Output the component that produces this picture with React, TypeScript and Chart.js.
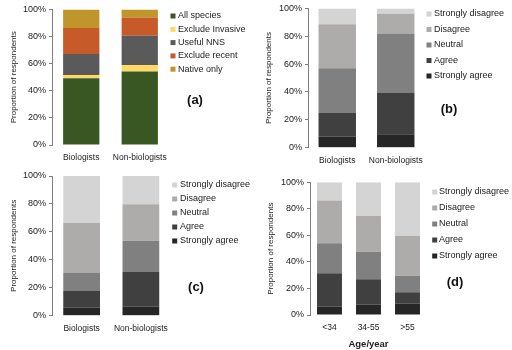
import React, { useEffect, useRef } from "react";
import { Chart, registerables } from "chart.js";
Chart.register(...registerables);

// ---------- data ----------
const groupCategories = ["Biologists", "Non-biologists"];
const ageCategories = ["<34", "34-55", ">55"];

const speciesLabels = ["All species", "Exclude Invasive", "Useful NNS", "Exclude recent", "Native only"];
const speciesColors = ["#385723", "#FFD966", "#5A5A5A", "#C65A28", "#C0962A"];
const allSpecies = [49.3, 54.2];
const excludeInvasive = [2.4, 4.9];
const usefulNNS = [15.5, 21.5];
const excludeRecent = [19.1, 13.5];
const nativeOnly = [13.7, 5.9];

const agreementLabels = ["Strongly agree", "Agree", "Neutral", "Disagree", "Strongly disagree"];
const agreementColors = ["#262626", "#404040", "#808080", "#AEACAA", "#D4D4D4"];

const bStronglyAgree = [7.8, 9.7];
const bAgree = [17.1, 29.5];
const bNeutral = [32.1, 42.8];
const bDisagree = [31.6, 14.2];
const bStronglyDisagree = [11.4, 3.8];

const cStronglyAgree = [5.7, 6.4];
const cAgree = [12.0, 24.9];
const cNeutral = [12.8, 22.4];
const cDisagree = [36.1, 26.0];
const cStronglyDisagree = [33.4, 20.3];

const dStronglyAgree = [6.3, 7.8, 8.5];
const dAgree = [25.1, 19.1, 8.6];
const dNeutral = [22.6, 20.8, 12.5];
const dDisagree = [32.2, 26.9, 30.2];
const dStronglyDisagree = [13.8, 25.4, 40.2];

const yAxisTitle = "Proportion of respondents";
const FONT = '"Liberation Sans", Arial, sans-serif';

type PanelCfg = {
  left: number; top: number; width: number; height: number;
  categories: string[];
  series: { label: string; data: number[]; color: string }[];
  legendOrder: number[];
  area: { left: number; right: number; top: number; bottom: number };
  legend: { sqX: number; textX: number; y0: number; dy: number };
  tag: { text: string; x: number; y: number };
  barPct: number;
  xTitle?: string;
  titleX: number;
};

const panels: PanelCfg[] = [
  {
    left: 0, top: 0, width: 256, height: 165,
    categories: groupCategories,
    series: [allSpecies, excludeInvasive, usefulNNS, excludeRecent, nativeOnly].map((d, i) => ({ label: speciesLabels[i], data: d, color: speciesColors[i] })),
    legendOrder: [0, 1, 2, 3, 4],
    area: { left: 52, right: 169, top: 9.5, bottom: 145 },
    legend: { sqX: 173, textX: 178, y0: 16, dy: 13.3 },
    tag: { text: "(a)", x: 195, y: 100 },
    barPct: 0.62,
    titleX: 14,
  },
  {
    left: 256, top: 0, width: 256, height: 165,
    categories: groupCategories,
    series: [bStronglyAgree, bAgree, bNeutral, bDisagree, bStronglyDisagree].map((d, i) => ({ label: agreementLabels[i], data: d, color: agreementColors[i] })),
    legendOrder: [4, 3, 2, 1, 0],
    area: { left: 52, right: 169, top: 7.3, bottom: 147.7 },
    legend: { sqX: 173, textX: 178, y0: 14, dy: 15.5 },
    tag: { text: "(b)", x: 193, y: 109 },
    barPct: 0.64,
    titleX: 13,
  },
  {
    left: 0, top: 165, width: 256, height: 185,
    categories: groupCategories,
    series: [cStronglyAgree, cAgree, cNeutral, cDisagree, cStronglyDisagree].map((d, i) => ({ label: agreementLabels[i], data: d, color: agreementColors[i] })),
    legendOrder: [4, 3, 2, 1, 0],
    area: { left: 52, right: 170.5, top: 11, bottom: 150.7 },
    legend: { sqX: 174.7, textX: 180, y0: 20, dy: 14 },
    tag: { text: "(c)", x: 196, y: 122 },
    barPct: 0.62,
    titleX: 14,
  },
  {
    left: 256, top: 165, width: 256, height: 185,
    categories: ageCategories,
    series: [dStronglyAgree, dAgree, dNeutral, dDisagree, dStronglyDisagree].map((d, i) => ({ label: agreementLabels[i], data: d, color: agreementColors[i] })),
    legendOrder: [4, 3, 2, 1, 0],
    area: { left: 54, right: 171, top: 17.3, bottom: 150 },
    legend: { sqX: 178.7, textX: 183, y0: 27, dy: 16 },
    tag: { text: "(d)", x: 199, y: 117 },
    barPct: 0.64,
    xTitle: "Age/year",
    titleX: 15,
  },
];

function Panel({ cfg }: { cfg: PanelCfg }) {
  const ref = useRef<HTMLCanvasElement | null>(null);
  useEffect(() => {
    if (!ref.current) return;
    const overlay = {
      id: "overlay",
      afterDraw(chart: any) {
        const ctx = chart.ctx;
        ctx.save();
        ctx.font = `9px ${FONT}`;
        ctx.textBaseline = "middle";
        ctx.textAlign = "left";
        cfg.legendOrder.forEach((di, i) => {
          const ds = chart.data.datasets[di];
          const y = cfg.legend.y0 + i * cfg.legend.dy;
          ctx.fillStyle = ds.backgroundColor;
          ctx.fillRect(cfg.legend.sqX - 2.5, y - 2.5, 5, 5);
          ctx.fillStyle = "#222";
          ctx.fillText(ds.label, cfg.legend.textX, y);
        });
        ctx.font = `bold 13px ${FONT}`;
        ctx.textAlign = "center";
        ctx.fillStyle = "#111";
        ctx.fillText(cfg.tag.text, cfg.tag.x, cfg.tag.y);
        ctx.restore();
      },
    };
    const chart = new Chart(ref.current, {
      type: "bar",
      data: {
        labels: cfg.categories,
        datasets: cfg.series.map((s) => ({
          label: s.label,
          data: s.data,
          backgroundColor: s.color,
          borderWidth: 0,
          barPercentage: cfg.barPct,
          categoryPercentage: 1,
        })),
      },
      options: {
        responsive: false,
        animation: false,
        layout: { padding: { left: 0, right: cfg.width - cfg.area.right, top: cfg.area.top, bottom: 0 } },
        plugins: { legend: { display: false }, tooltip: { enabled: false } },
        scales: {
          x: {
            stacked: true,
            grid: { display: false, drawTicks: false },
            border: { display: false },
            ticks: { color: "#222", font: { family: FONT, size: 8.5 }, padding: 8, maxRotation: 0, minRotation: 0, autoSkip: false },
            title: cfg.xTitle
              ? { display: true, text: cfg.xTitle, color: "#222", font: { family: FONT, size: 9.5, weight: "bold" }, padding: { top: 6, bottom: 0 } }
              : { display: false },
            afterFit: (s: any) => { s.height = cfg.height - cfg.area.bottom; },
          },
          y: {
            stacked: true,
            min: 0,
            max: 100,
            grid: { display: true, drawOnChartArea: false, drawTicks: true, tickLength: 3, color: "#7f7f7f" },
            border: { display: true, color: "#7f7f7f" },
            ticks: { stepSize: 20, color: "#222", font: { family: FONT, size: 9 }, padding: 3, callback: (v: any) => `${v}%` },
            title: { display: true, text: yAxisTitle, color: "#222", font: { family: FONT, size: 8 }, padding: { top: cfg.titleX - 4.8, bottom: 0 } },
            afterFit: (s: any) => { s.width = cfg.area.left; },
          },
        },
      },
      plugins: [overlay],
    } as any);
    return () => chart.destroy();
  }, [cfg]);
  return (
    <canvas
      ref={ref}
      width={cfg.width}
      height={cfg.height}
      style={{ position: "absolute", left: cfg.left, top: cfg.top, width: cfg.width, height: cfg.height, display: "block" }}
    />
  );
}

export default function App() {
  return (
    <div style={{ position: "absolute", left: 0, top: 0, width: 512, height: 350, background: "#fff" }}>
      {panels.map((p, i) => (
        <Panel key={i} cfg={p} />
      ))}
    </div>
  );
}
